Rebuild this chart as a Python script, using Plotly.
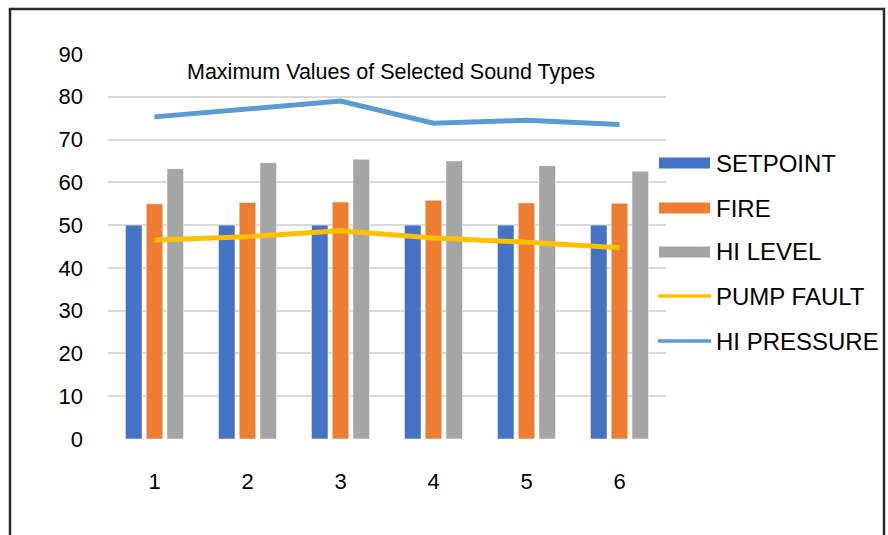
import plotly.graph_objects as go

# Sound type measurements per test run
runs = [1, 2, 3, 4, 5, 6]
setpoint = [50, 50, 50, 50, 50, 50]
fire = [55.0, 55.3, 55.4, 55.8, 55.2, 55.1]
hi_level = [63.2, 64.6, 65.4, 65.0, 63.9, 62.6]
pump_fault = [46.5, 47.3, 48.7, 47.0, 46.0, 44.7]
hi_pressure = [75.3, 77.1, 79.0, 73.8, 74.5, 73.5]
y_ticks = [0, 10, 20, 30, 40, 50, 60, 70, 80, 90]
title_text = "Maximum Values of Selected Sound Types"

W, H = 888, 535
L, R, T, B = 108, 666, 54, 439  # plot area in pixels

def px(x):
    return (x - L) / (R - L)

def py(y):
    return (B - y) / (B - T)

FONT = "Liberation Sans, Arial, sans-serif"
bar_series = [("SETPOINT", setpoint, "#4472C4"),
              ("FIRE", fire, "#ED7D31"),
              ("HI LEVEL", hi_level, "#A5A5A5")]
line_series = [("PUMP FAULT", pump_fault, "#FFC000"),
               ("HI PRESSURE", hi_pressure, "#5B9BD5")]

fig = go.Figure()
for name, vals, color in bar_series:
    fig.add_trace(go.Bar(x=runs, y=vals, name=name, marker_color=color,
                         marker_line=dict(color="rgba(255,255,255,0.55)", width=1),
                         showlegend=False))
for name, vals, color in line_series:
    fig.add_trace(go.Scatter(x=runs, y=vals, name=name, mode="lines",
                             line=dict(color=color, width=5),
                             showlegend=False))

shapes = []
annotations = []

# outer frame
shapes.append(dict(type="rect", xref="paper", yref="paper",
                   x0=px(10), x1=px(884), y0=py(560), y1=py(9),
                   line=dict(color="#2b2b2b", width=2.5), layer="below"))

# legend
legend_y = [163, 208, 252, 296, 341]
entries = [(n, c, "bar") for n, _, c in bar_series] + [(n, c, "line") for n, _, c in line_series]
for (name, color, kind), ly in zip(entries, legend_y):
    if kind == "bar":
        shapes.append(dict(type="rect", xref="paper", yref="paper",
                           x0=px(659), x1=px(710), y0=py(ly + 5.5), y1=py(ly - 5.5),
                           fillcolor=color, line=dict(width=0)))
    else:
        shapes.append(dict(type="line", xref="paper", yref="paper",
                           x0=px(658), x1=px(711), y0=py(ly), y1=py(ly),
                           line=dict(color=color, width=3.5)))
    annotations.append(dict(text=name, xref="paper", yref="paper",
                            x=px(714), y=py(ly), xanchor="left", yanchor="middle",
                            showarrow=False, font=dict(size=24, color="#000000", family=FONT)))

annotations.append(dict(text=title_text, xref="paper", yref="paper",
                        x=px(391), y=py(72), xanchor="center", yanchor="middle",
                        showarrow=False, font=dict(size=21.5, color="#000000", family=FONT)))

fig.update_layout(
    width=W, height=H,
    margin=dict(l=L, r=W - R, t=T, b=H - B, pad=0),
    paper_bgcolor="white", plot_bgcolor="white",
    barmode="group", bargap=0.33, bargroupgap=0.2,
    font=dict(family=FONT, size=21, color="#000000"),
    shapes=shapes, annotations=annotations,
    xaxis=dict(range=[0.5, 6.5], tickvals=runs, ticktext=[str(r) for r in runs],
               showgrid=False, zeroline=False, showline=False, ticks="",
               ticklabelstandoff=27, tickfont=dict(size=22)),
    yaxis=dict(range=[0, 90], tickvals=y_ticks, showgrid=True,
               gridcolor="#D9D9D9", gridwidth=1.5, zeroline=False, showline=False,
               ticks="", ticklabelstandoff=24, tickfont=dict(size=22)),
)

fig.write_html("out.html")
